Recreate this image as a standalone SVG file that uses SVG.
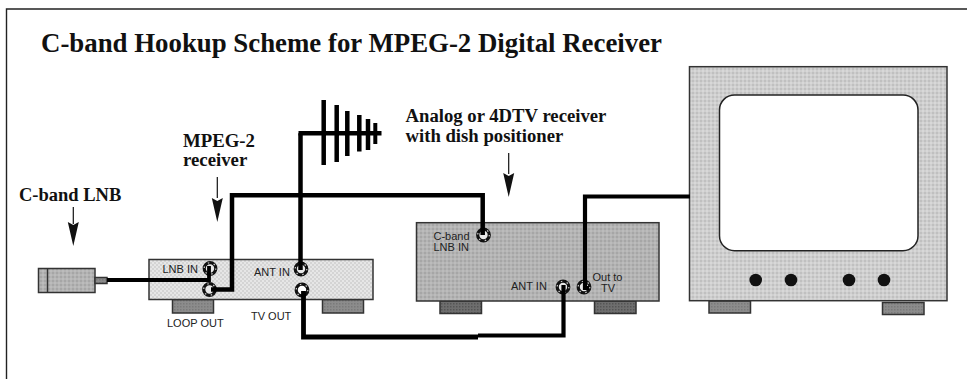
<svg xmlns="http://www.w3.org/2000/svg" width="967" height="379" viewBox="0 0 967 379">
<style>
.h{font-family:"Liberation Serif","Times New Roman",serif;font-weight:bold;fill:#111}
.s{font-family:"Liberation Sans",Arial,sans-serif;font-size:11px;fill:#222}
.b{stroke:#333;stroke-width:1.500}
.f{stroke:#333;stroke-width:1.500}
.c{fill:none;stroke:#000;stroke-linejoin:miter}
.jack{fill:#e8e8e8;stroke:#111;stroke-width:3.200}
.jn{fill:none;stroke:#ccc;stroke-width:1.200;stroke-dasharray:1.500 4.600}
.d{fill:none;stroke:#000;stroke-width:4.500}
</style>
<defs>
<marker id="ah" markerUnits="userSpaceOnUse" markerWidth="25" markerHeight="12" refX="24" refY="6" orient="auto" viewBox="0 0 25 12"><path d="M0 0.500 L3 6 L0 11.500 L24 6 Z" fill="#111"/></marker>
<pattern id="p1" width="4" height="4" patternUnits="userSpaceOnUse"><rect width="4" height="4" fill="#e6e6e6"/><rect width="2" height="2" fill="#d4d4d4"/><rect x="2" y="2" width="2" height="2" fill="#d4d4d4"/></pattern>
<pattern id="p2" width="4" height="4" patternUnits="userSpaceOnUse"><rect width="4" height="4" fill="#b4b4b4"/><rect width="2" height="2" fill="#a6a6a6"/><rect x="2" y="2" width="2" height="2" fill="#bcbcbc"/></pattern>
<pattern id="p3" width="4" height="4" patternUnits="userSpaceOnUse"><rect width="4" height="4" fill="#cfcfcf"/><rect width="2" height="2" fill="#c0c0c0"/><rect x="2" y="2" width="2" height="2" fill="#d8d8d8"/></pattern>
<pattern id="p4" width="3" height="3" patternUnits="userSpaceOnUse"><rect width="3" height="3" fill="#8c8c8c"/><rect width="1.500" height="1.500" fill="#7a7a7a"/></pattern>
<pattern id="p5" width="3" height="3" patternUnits="userSpaceOnUse"><rect width="3" height="3" fill="#6e6e6e"/><rect width="1.500" height="1.500" fill="#555"/></pattern>
</defs>
<rect width="967" height="379" fill="#fff"/>
<path id="frame" d="M967 9H6.500V379" fill="none" stroke="#222" stroke-width="1.400"/>
<text class="h" x="41" y="52" font-size="27" textLength="621" lengthAdjust="spacingAndGlyphs">C-band Hookup Scheme for MPEG-2 Digital Receiver</text>

<g id="lnb">
<rect class="b" x="38.500" y="268.500" width="56.500" height="24" fill="url(#p2)"/>
<path class="b" d="M47.500 268.500V292.500" fill="none"/>
<rect class="b" x="95" y="277.500" width="12" height="6" fill="url(#p4)"/>
<text class="h" x="19" y="201" font-size="18.500">C-band LNB</text>
</g>

<g id="mpeg2-receiver">
<rect class="f" x="172.500" y="299.500" width="41" height="13.500" fill="url(#p4)"/>
<rect class="f" x="322.500" y="299.500" width="41" height="13.500" fill="url(#p4)"/>
<rect class="b" x="149" y="259.500" width="224" height="40" fill="url(#p1)"/>
<text class="h" x="183" y="147" font-size="18.800">MPEG-2</text>
<text class="h" x="183" y="166" font-size="18.800">receiver</text>
<text class="s" x="162.500" y="273">LNB IN</text>
<text class="s" x="254" y="275.500">ANT IN</text>
<text class="s" x="167" y="326.500">LOOP OUT</text>
<text class="s" x="251" y="320">TV OUT</text>
<circle class="jack" cx="210" cy="268.500" r="5.800"/><circle class="jn" cx="210" cy="268.500" r="5.800"/>
<circle class="jack" cx="209.500" cy="289.500" r="5.800"/><circle class="jn" cx="209.500" cy="289.500" r="5.800"/>
<circle class="jack" cx="301" cy="269" r="5.800"/><circle class="jn" cx="301" cy="269" r="5.800"/>
<circle class="jack" cx="302" cy="290" r="5.800" style="fill:#fff"/><circle class="jn" cx="302" cy="290" r="5.800"/>
</g>

<g id="antenna">
<path class="d" d="M298.500 133.300H381.500M323.700 100V165M336.700 105V162M347.300 111V156M359.300 115V151.500M368 119V150"/>
<path class="d" d="M375.300 123V144" style="stroke-width:4"/>
</g>

<g id="analog-receiver">
<rect class="f" x="440" y="301" width="41.500" height="12.500" fill="url(#p5)"/>
<rect class="f" x="594.500" y="301" width="41.500" height="12.500" fill="url(#p5)"/>
<rect class="b" x="416.500" y="222.700" width="242.500" height="78.300" fill="url(#p2)"/>
<text class="h" x="405.500" y="122" font-size="18.700">Analog or 4DTV receiver</text>
<text class="h" x="405.500" y="141.500" font-size="18.700">with dish positioner</text>
<text class="s" x="433.500" y="240">C-band</text>
<text class="s" x="433.500" y="250.500">LNB IN</text>
<text class="s" x="511" y="290">ANT IN</text>
<text class="s" x="592.500" y="280.500">Out to</text>
<text class="s" x="601" y="291.500">TV</text>
<circle class="jack" cx="483.500" cy="235" r="5.800"/><circle class="jn" cx="483.500" cy="235" r="5.800"/>
<circle class="jack" cx="563" cy="287" r="5.800"/><circle class="jn" cx="563" cy="287" r="5.800"/>
<circle class="jack" cx="584" cy="287" r="5.800"/><circle class="jn" cx="584" cy="287" r="5.800"/>
</g>

<g id="tv">
<rect class="f" x="709" y="301" width="41.500" height="12" fill="url(#p4)"/>
<rect class="f" x="882.500" y="302.500" width="41.500" height="12" fill="url(#p4)"/>
<rect class="b" x="689.500" y="66.700" width="257.500" height="234" fill="url(#p3)"/>
<rect x="719.500" y="95" width="198.500" height="155.700" rx="15" fill="#fff" stroke="#222" stroke-width="1.500"/>
<circle cx="755.700" cy="280" r="6.300" fill="#111"/>
<circle cx="791" cy="280" r="6.300" fill="#111"/>
<circle cx="849" cy="280" r="6.300" fill="#111"/>
<circle cx="884" cy="280" r="6.300" fill="#111"/>
</g>

<g id="connectors">
<path class="c" stroke-width="3.800" d="M107 280H209V266"/>
<path class="c" stroke-width="4.500" d="M211 289.500H232V195.300H482.700V235"/>
<path class="c" stroke-width="4.500" d="M300.500 133.300V270"/>
<path class="c" stroke-width="4.800" d="M303.500 291V337H478"/>
<path class="c" stroke-width="4.200" d="M478 335.500H563.500V285"/>
<path class="c" stroke-width="4.200" d="M589 288H585V196.500H690"/>
<path d="M73.300 207V224" fill="none" stroke="#111" stroke-width="1.200"/>
<path d="M73.300 222V246" fill="none" stroke="#111" stroke-width="0" marker-end="url(#ah)"/>
<path d="M217.300 177V198" fill="none" stroke="#111" stroke-width="1.200"/>
<path d="M217.300 197V222" fill="none" stroke="#111" stroke-width="0" marker-end="url(#ah)"/>
<path d="M508.700 153V174" fill="none" stroke="#111" stroke-width="1.200"/>
<path d="M508.700 173V197" fill="none" stroke="#111" stroke-width="0" marker-end="url(#ah)"/>
</g>
</svg>
